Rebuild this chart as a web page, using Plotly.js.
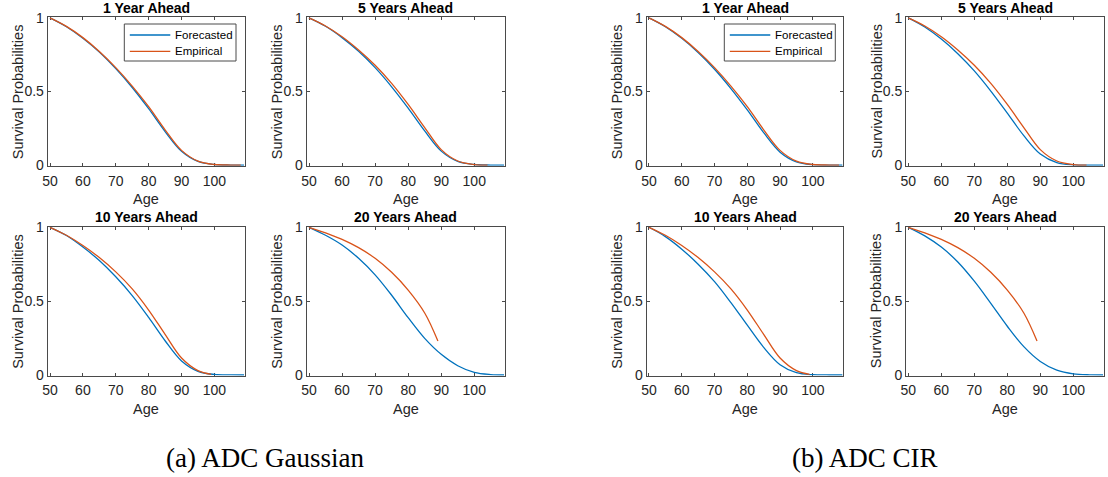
<!DOCTYPE html>
<html>
<head>
<meta charset="utf-8">
<script src="https://cdn.plot.ly/plotly-3.0.1.min.js"></script>
<style>
  html, body { margin: 0; padding: 0; background: #fff; }
  #chart { width: 1108px; height: 477px; }
</style>
</head>
<body>
<div id="chart"></div>
<script>
// Ages for the forecasted survival curves and tick labels
const forecastAges = [50, 55, 60, 65, 70, 75, 80, 85, 90, 95, 100, 105, 109];
const ageTicks = [50, 60, 70, 80, 90, 100];
const probTicks = [0, 0.5, 1];
const probTickText = ['0', '0.5', '1'];

// Empirical survival curves (shared by both models); observed ages shrink with the horizon
const empAges1 = [50, 55, 60, 65, 70, 75, 80, 85, 90, 95, 100, 105, 108];
const emp1 = [1, 0.942, 0.866, 0.772, 0.662, 0.537, 0.397, 0.24, 0.1, 0.027, 0.004, 0.0005, 0];
const empAges5 = [50, 55, 60, 65, 70, 75, 80, 85, 90, 95, 100, 104];
const emp5 = [1, 0.945, 0.872, 0.782, 0.678, 0.555, 0.412, 0.255, 0.105, 0.028, 0.004, 0];
const empAges10 = [50, 55, 60, 65, 70, 75, 80, 85, 90, 95, 99];
const emp10 = [1, 0.946, 0.877, 0.795, 0.698, 0.583, 0.44, 0.275, 0.115, 0.03, 0.005];
const empAges20 = [50, 55, 60, 65, 70, 75, 80, 85, 89];
const emp20 = [1, 0.962, 0.918, 0.862, 0.79, 0.695, 0.575, 0.42, 0.23];

// ADC Gaussian forecasts
const gauss1 = [1, 0.94, 0.862, 0.768, 0.655, 0.527, 0.383, 0.228, 0.094, 0.025, 0.004, 0.0004, 0];
const gauss5 = [1, 0.943, 0.866, 0.773, 0.662, 0.532, 0.387, 0.232, 0.095, 0.025, 0.004, 0.0004, 0];
const gauss10 = [1, 0.944, 0.866, 0.775, 0.665, 0.538, 0.39, 0.232, 0.095, 0.025, 0.004, 0.0005, 0];
const gauss20 = [1, 0.946, 0.88, 0.79, 0.678, 0.54, 0.388, 0.248, 0.14, 0.063, 0.018, 0.003, 0];

// ADC CIR forecasts
const cir1 = [1, 0.94, 0.861, 0.765, 0.651, 0.52, 0.375, 0.22, 0.088, 0.022, 0.003, 0.0003, 0];
const cir5 = [1, 0.938, 0.856, 0.757, 0.64, 0.503, 0.353, 0.2, 0.075, 0.017, 0.002, 0.0002, 0];
const cir10 = [1, 0.937, 0.852, 0.75, 0.632, 0.49, 0.337, 0.187, 0.07, 0.016, 0.002, 0.0002, 0];
const cir20 = [1, 0.942, 0.866, 0.765, 0.635, 0.485, 0.33, 0.192, 0.092, 0.033, 0.008, 0.001, 0];

const panelTitles = ['1 Year Ahead', '5 Years Ahead', '10 Years Ahead', '20 Years Ahead'];
const seriesNames = ['Forecasted', 'Empirical'];
const captions = ['(a) ADC Gaussian', '(b) ADC CIR'];

const W = 1108, H = 477;
const BLUE = '#0072BD', ORANGE = '#D95319', INK = '#262626', FRAME = '#4a4a4a';
const SANS = 'Liberation Sans, Arial, Helvetica, sans-serif';

// Pixel boxes of the eight axes: columns [left, right], rows [top, bottom]
const cols = [[47.7, 245], [306.7, 505], [646.7, 843.3], [906, 1104]];
const rows = [[17.3, 165.7], [226.7, 375.6]];

const empAges = [empAges1, empAges5, empAges10, empAges20];
const empVals = [emp1, emp5, emp10, emp20];
const models = [[gauss1, gauss5, gauss10, gauss20], [cir1, cir5, cir10, cir20]];
const colours = [BLUE, ORANGE];

const data = [];
const layout = {
  width: W, height: H,
  margin: {l: 0, r: 0, t: 0, b: 0},
  paper_bgcolor: '#fff', plot_bgcolor: '#fff',
  showlegend: false,
  annotations: [],
  shapes: []
};

const px = v => v / W;
const py = v => 1 - v / H;

let n = 0;
models.forEach((fc, m) => {
  for (let k = 0; k < 4; k++) {
    n += 1;
    const c = cols[m * 2 + (k % 2)];
    const r = rows[Math.floor(k / 2)];
    const sfx = n === 1 ? '' : String(n);

    data.push({
      x: forecastAges, y: fc[k], type: 'scatter', mode: 'lines',
      line: {color: colours[0], width: 1.3, shape: 'spline'},
      name: seriesNames[0], xaxis: 'x' + sfx, yaxis: 'y' + sfx, hoverinfo: 'skip'
    });
    data.push({
      x: empAges[k], y: empVals[k], type: 'scatter', mode: 'lines',
      line: {color: colours[1], width: 1.3, shape: 'spline'},
      name: seriesNames[1], xaxis: 'x' + sfx, yaxis: 'y' + sfx, hoverinfo: 'skip'
    });

    const common = {
      showline: true, linecolor: FRAME, linewidth: 1, mirror: 'allticks',
      ticks: 'inside', ticklen: 3, tickcolor: FRAME, tickwidth: 1,
      showgrid: false, zeroline: false, layer: 'below traces', fixedrange: true,
      tickfont: {family: SANS, size: 14, color: INK}
    };
    layout['xaxis' + sfx] = Object.assign({}, common, {
      domain: [px(c[0]), px(c[1])], anchor: 'y' + sfx,
      range: [49.3, 109.3], tickmode: 'array', tickvals: ageTicks,
      ticklabelstandoff: 2
    });
    layout['yaxis' + sfx] = Object.assign({}, common, {
      domain: [py(r[1]), py(r[0])], anchor: 'x' + sfx,
      range: [-0.004, 1.004], tickmode: 'array', tickvals: probTicks, ticktext: probTickText
    });

    const cx = (c[0] + c[1]) / 2;
    layout.annotations.push({
      text: '<b>' + panelTitles[k] + '</b>', xref: 'paper', yref: 'paper',
      x: px(cx), y: py(r[0] - 9.5), xanchor: 'center', yanchor: 'middle',
      showarrow: false, font: {family: SANS, size: 14, color: '#000'}
    });
    layout.annotations.push({
      text: 'Age', xref: 'paper', yref: 'paper',
      x: px(cx), y: py(r[1] + 33.5), xanchor: 'center', yanchor: 'middle',
      showarrow: false, font: {family: SANS, size: 14.5, color: INK}
    });
    layout.annotations.push({
      text: 'Survival Probabilities', xref: 'paper', yref: 'paper', textangle: -90,
      x: px(c[0] - 30), y: py((r[0] + r[1]) / 2), xanchor: 'center', yanchor: 'middle',
      showarrow: false, font: {family: SANS, size: 14.5, color: INK}
    });
  }
});

// Legend boxes in the two "1 Year Ahead" axes
[[124.3, 236], [724.3, 835.3]].forEach(b => {
  const [l, rgt] = b;
  layout.shapes.push({
    type: 'rect', xref: 'paper', yref: 'paper',
    x0: px(l), x1: px(rgt), y0: py(61), y1: py(24),
    line: {color: FRAME, width: 1}, fillcolor: '#fff', layer: 'below'
  });
  seriesNames.forEach((name, i) => {
    const yy = 35 + i * 16.3;
    layout.shapes.push({
      type: 'line', xref: 'paper', yref: 'paper',
      x0: px(l + 5.5), x1: px(l + 46), y0: py(yy), y1: py(yy),
      line: {color: colours[i], width: 1.3}, layer: 'above'
    });
    layout.annotations.push({
      text: name, xref: 'paper', yref: 'paper',
      x: px(l + 48.5), y: py(yy), xanchor: 'left', yanchor: 'middle',
      showarrow: false, font: {family: SANS, size: 11.5, color: '#000'}
    });
  });
});

captions.forEach((t, i) => {
  layout.annotations.push({
    text: t, xref: 'paper', yref: 'paper',
    x: px([265, 865][i]), y: py(458), xanchor: 'center', yanchor: 'middle',
    showarrow: false, font: {family: 'Liberation Serif, Times New Roman, serif', size: 27, color: '#000'}
  });
});

Plotly.newPlot('chart', data, layout, {staticPlot: true, displayModeBar: false});
</script>
</body>
</html>
